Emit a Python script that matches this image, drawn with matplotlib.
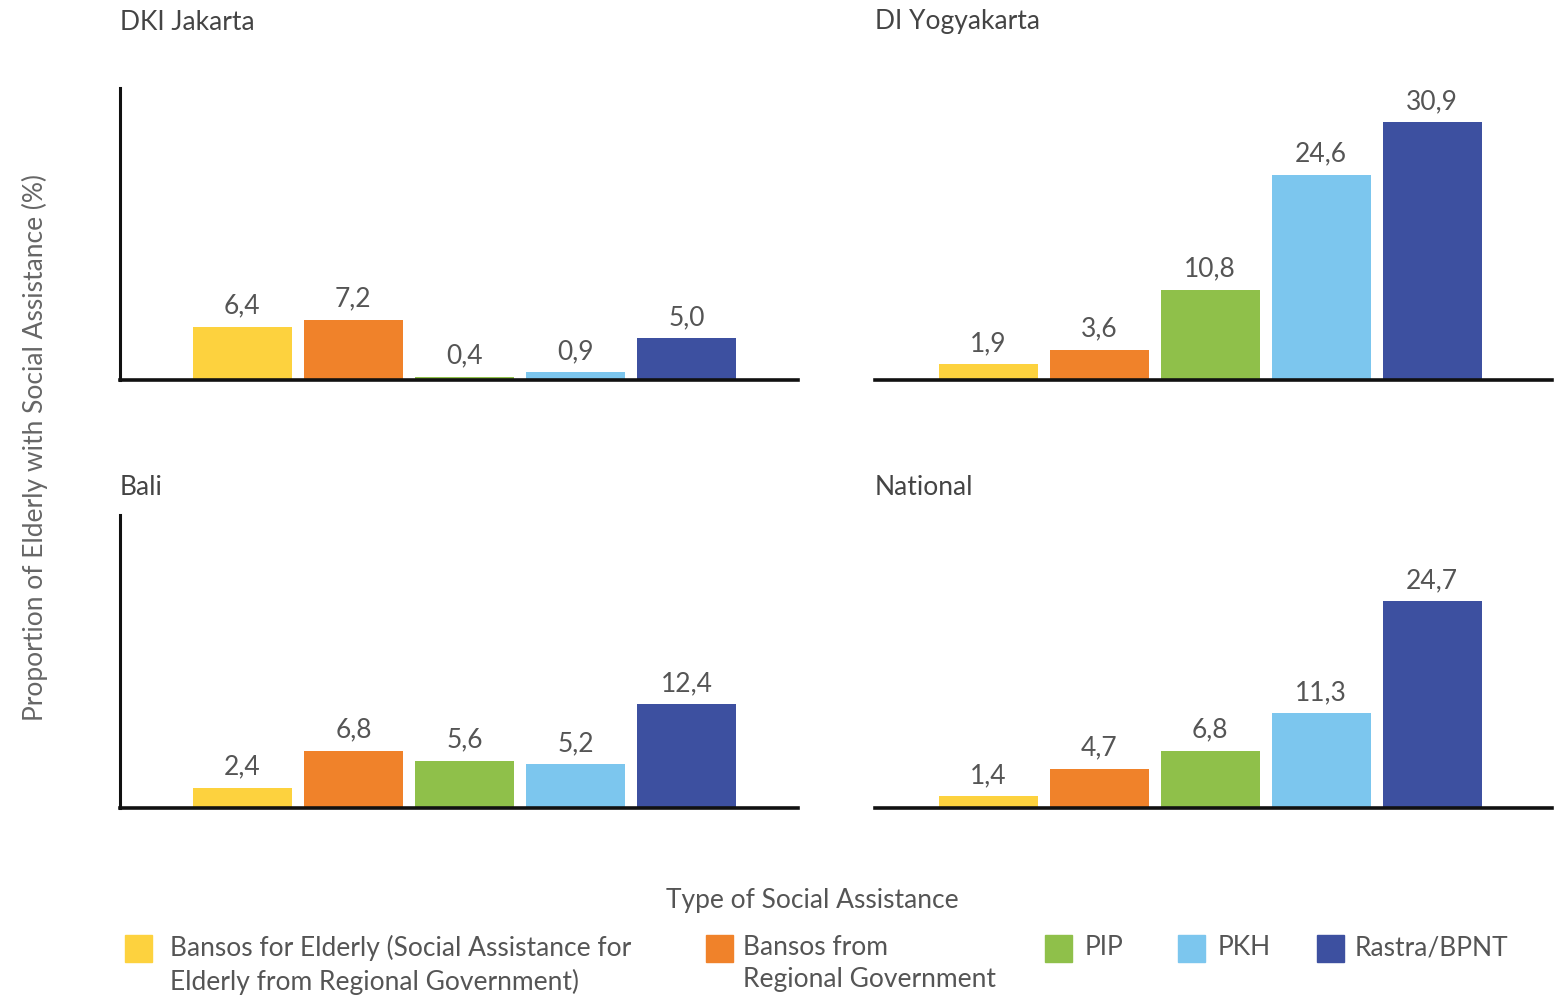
import matplotlib.pyplot as plt
from matplotlib.patches import Rectangle

plt.rcParams['font.family'] = ['Lato', 'DejaVu Sans']

# data
regions = ['DKI Jakarta', 'DI Yogyakarta', 'Bali', 'National']
programs = ['Bansos for Elderly (Social Assistance for\nElderly from Regional Government)',
            'Bansos from\nRegional Government', 'PIP', 'PKH', 'Rastra/BPNT']
jakarta = [6.4, 7.2, 0.4, 0.9, 5.0]
yogyakarta = [1.9, 3.6, 10.8, 24.6, 30.9]
bali = [2.4, 6.8, 5.6, 5.2, 12.4]
national = [1.4, 4.7, 6.8, 11.3, 24.7]
colors = ['#FDD23E', '#F0822A', '#8FC04A', '#7CC6EE', '#3D50A0']

W, H = 1560, 996
fig = plt.figure(figsize=(W / 100, H / 100), dpi=100)

# panel boxes in pixels: left, top, right, baseline
boxes = [(120, 88, 798, 380), (875, 88, 1552, 380),
         (120, 515, 798, 808), (875, 515, 1552, 808)]
xlims = [(-1.1, 5.0), (-1.02, 5.08), (-1.1, 5.0), (-1.02, 5.08)]
values = [jakarta, yogyakarta, bali, national]
text_col = '#555555'
fs = 19

for i, (name, vals) in enumerate(zip(regions, values)):
    l, t, r, b = boxes[i]
    ax = fig.add_axes([l / W, 1 - b / H, (r - l) / W, (b - t) / H])
    x = range(len(vals))
    bars = ax.bar(x, vals, width=0.89, color=colors, zorder=2)
    for bar, v in zip(bars, vals):
        ax.annotate(f'{v:.1f}'.replace('.', ','),
                    (bar.get_x() + bar.get_width() / 2, v),
                    xytext=(0, 6), textcoords='offset points',
                    ha='center', va='bottom', fontsize=fs, color=text_col)
    ax.set_xlim(*xlims[i])
    ax.set_ylim(0, 35)
    ax.set_xticks([])
    ax.set_yticks([])
    for s in ['top', 'right']:
        ax.spines[s].set_visible(False)
    ax.spines['bottom'].set_linewidth(2.6)
    ax.spines['bottom'].set_color('#111111')
    if i % 2 == 0:
        ax.spines['left'].set_linewidth(2.2)
        ax.spines['left'].set_color('#111111')
    else:
        ax.spines['left'].set_visible(False)
    ax.patch.set_alpha(0)
    # panel title
    fig.text(l / W, 1 - (22 if i < 2 else 487) / H, name, fontsize=fs,
             color='#444444', ha='left', va='center')

fig.text(35 / W, 1 - 447 / H, 'Proportion of Elderly with Social Assistance (%)',
         rotation=90, ha='center', va='center', fontsize=fs, color='#666666')

# legend
fig.text(812 / W, 1 - 900 / H, 'Type of Social Assistance', ha='center', va='center',
         fontsize=fs, color='#555555')
swatch_x = [125, 706, 1045, 1178, 1317]
label_x = [170, 743, 1085, 1218, 1355]
for xs, xt, c, lab in zip(swatch_x, label_x, colors, programs):
    fig.add_artist(Rectangle((xs / W, 1 - 962 / H), 27 / W, 27 / H,
                             transform=fig.transFigure, color=c))
    fig.text(xt / W, 1 - 935 / H, lab, ha='left', va='top',
             fontsize=fs, color='#555555', linespacing=1.35)

fig.savefig('out.png', dpi=100)
